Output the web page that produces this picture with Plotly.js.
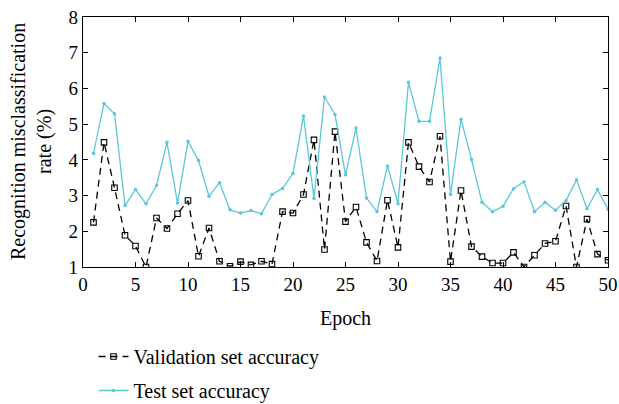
<!DOCTYPE html>
<html>
<head>
<meta charset="utf-8">
<script src="https://cdn.plot.ly/plotly-3.0.1.min.js"></script>
<style>html,body{margin:0;padding:0;background:#fff;}#chart{width:619px;height:404px;}</style>
</head>
<body>
<div id="chart"></div>
<script>
const epochs = [1,2,3,4,5,6,7,8,9,10,11,12,13,14,15,16,17,18,19,20,21,22,23,24,25,26,27,28,29,30,31,32,33,34,35,36,37,38,39,40,41,42,43,44,45,46,47,48,49,50];
const validation = [2.25,4.49,3.22,1.89,1.59,1.0,2.37,2.08,2.49,2.86,1.30,2.09,1.16,1.02,1.15,1.06,1.16,1.08,2.55,2.51,3.03,4.56,1.49,4.79,2.27,2.68,1.69,1.17,2.87,1.55,4.49,3.81,3.38,4.66,1.15,3.14,1.57,1.29,1.11,1.11,1.41,1.0,1.33,1.66,1.72,2.71,1.0,2.34,1.36,1.19];
const test = [4.18,5.58,5.29,2.72,3.17,2.77,3.28,4.49,2.79,4.52,3.98,2.98,3.36,2.60,2.51,2.58,2.49,3.03,3.20,3.62,5.23,2.92,5.76,5.27,3.58,4.89,2.93,2.55,3.83,2.77,6.17,5.08,5.08,6.85,3.03,5.14,4.01,2.81,2.55,2.70,3.19,3.39,2.55,2.81,2.59,2.86,3.44,2.63,3.17,2.62];
const seriesNames = ["Validation set accuracy","Test set accuracy"];
const xTicks = [0,5,10,15,20,25,30,35,40,45,50];
const yTicks = [1,2,3,4,5,6,7,8];
const xTitle = "Epoch";
const yTitle = "Recognition misclassification<br>rate (%)";

const font = "Liberation Serif, Times New Roman, serif";
const traces = [
  {x: epochs, y: validation, name: seriesNames[0], legendgroup: "v", type: "scatter", mode: "lines+markers",
   line: {color: "#000", width: 1.3, dash: "7px,5px"},
   marker: {symbol: "square-open", size: 5.5, color: "#000", line: {width: 1.1}}},
  {x: epochs, y: test, name: seriesNames[1], legendgroup: "t", type: "scatter", mode: "lines+markers",
   line: {color: "#5ec6da", width: 1.3},
   marker: {symbol: "circle", size: 3.5, color: "#5ec6da"}}
];
const axisCommon = {showgrid: false, zeroline: false, showline: true, linecolor: "#000", linewidth: 1.2,
  mirror: "ticks", ticks: "inside", ticklen: 5, tickcolor: "#000", tickwidth: 1,
  tickfont: {family: font, size: 19, color: "#000"}};
const layout = {
  width: 619, height: 404,
  margin: {l: 83, r: 11, t: 17, b: 137, autoexpand: false},
  paper_bgcolor: "#fff", plot_bgcolor: "#fff",
  font: {family: font, color: "#000"},
  xaxis: Object.assign({}, axisCommon, {range: [0, 50], tickvals: xTicks}),
  yaxis: Object.assign({}, axisCommon, {range: [1, 8], tickvals: yTicks}),
  annotations: [
    {text: xTitle, xref: "paper", yref: "paper", x: 0.5, y: -0.204, xanchor: "center", yanchor: "middle",
     showarrow: false, font: {family: font, size: 20, color: "#000"}},
    {text: yTitle, xref: "paper", yref: "paper", x: -0.099, y: 0.5, xanchor: "center", yanchor: "middle",
     textangle: -90, showarrow: false, font: {family: font, size: 20, color: "#000"}}
  ],
  showlegend: true,
  legend: {x: 0.02, xanchor: "left", y: -0.28, yanchor: "top",
    font: {family: font, size: 20, color: "#000"},
    bgcolor: "rgba(0,0,0,0)", traceorder: "grouped", tracegroupgap: 5, itemwidth: 30}
};
Plotly.newPlot("chart", traces, layout, {staticPlot: true, displayModeBar: false});
</script>
</body>
</html>
